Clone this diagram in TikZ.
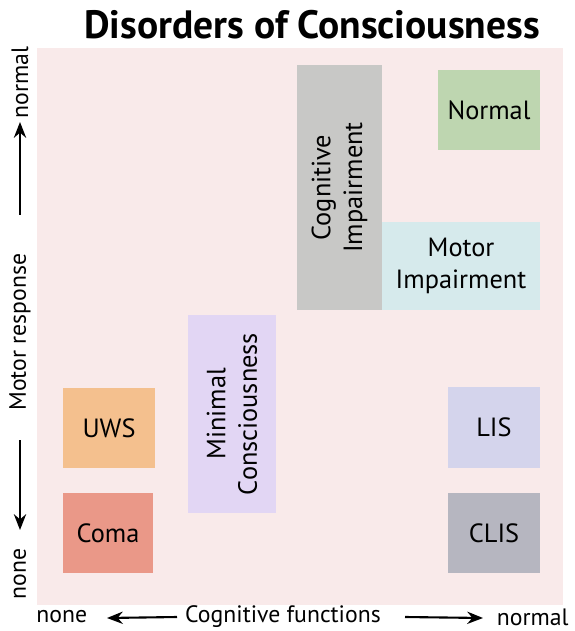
\documentclass[tikz,border=0pt]{standalone}
\usepackage{fontspec}
\setmainfont{PT Sans}
\usetikzlibrary{arrows.meta}

\definecolor{bgpink}{RGB}{249,234,234}
\definecolor{cogray}{RGB}{200,200,198}
\definecolor{normgreen}{RGB}{190,214,176}
\definecolor{motcyan}{RGB}{214,234,236}
\definecolor{uwsorange}{RGB}{244,192,142}
\definecolor{comasalmon}{RGB}{234,152,136}
\definecolor{minlav}{RGB}{226,214,244}
\definecolor{lisblue}{RGB}{212,212,236}
\definecolor{clisgray}{RGB}{182,182,192}

\newdimen\px
\px=0.02cm

\tikzset{
  state/.style={inner sep=0pt, align=center, font=\fontsize{15}{18}\selectfont},
  axislabel/.style={inner sep=0pt, font=\fontsize{13.5}{16}\selectfont},
  vaxislabel/.style={inner sep=0pt, rotate=90, font=\fontsize{13.5}{16}\selectfont},
  axisarrow/.style={-{Stealth[length=9pt,width=7pt]}, line width=1.2pt}
}

\begin{document}
\begin{tikzpicture}[x=0.02cm, y=-0.02cm]
      \useasboundingbox (0,0) rectangle (574,631);

      % Sfondo
      \fill[bgpink] (37,48) rectangle (563,605);

      % Titolo
      \node[font=\fontsize{22.5}{26}\selectfont\bfseries] (title) at (312,25) {Disorders of Consciousness};

      % Stati in alto
      \node[state, fill=cogray, minimum width=245\px, minimum height=85\px, rotate=90] (cogimp) at (339.5,187.5) {Cognitive\\Impairment};
      \node[state, fill=normgreen, minimum width=102\px, minimum height=80\px] (normal) at (489,110) {Normal};
      \node[state, fill=motcyan, minimum width=158\px, minimum height=88\px] (motimp) at (461,266) {Motor\\Impairment};

      % Stato intermedio
      \node[state, fill=minlav, minimum width=198\px, minimum height=88\px, rotate=90] (mincons) at (232,414) {Minimal\\Consciousness};

      % Stati in basso a sinistra
      \node[state, fill=uwsorange, minimum width=92\px, minimum height=80\px] (uws) at (109,428) {UWS};
      \node[state, fill=comasalmon, minimum width=90\px, minimum height=80\px] (coma) at (108,533) {Coma};

      % Stati in basso a destra
      \node[state, fill=lisblue, minimum width=92\px, minimum height=81\px] (lis) at (494,427.5) {LIS};
      \node[state, fill=clisgray, minimum width=92\px, minimum height=80\px] (clis) at (494,533) {CLIS};

      % Asse orizzontale: funzioni cognitive
      \node[axislabel] (cogfun) at (283,617) {Cognitive functions};
      \node[axislabel, anchor=west] (cnone) at (36,617) {none};
      \node[axislabel, anchor=east] (cnormal) at (569,617) {normal};
      \coordinate (cleft) at (107,618);
      \coordinate (cright) at (483,618);
      \draw[axisarrow] (cogfun.west -| 177,0) -- (cleft);
      \draw[axisarrow] (cogfun.east -| 405,0) -- (cright);

      % Asse verticale: risposta motoria
      \node[vaxislabel] (motresp) at (20,332) {Motor response};
      \node[vaxislabel, anchor=west] (mnone) at (20,600) {none};
      \node[vaxislabel, anchor=east] (mnormal) at (20,46) {normal};
      \coordinate (mtop) at (20,122);
      \coordinate (mbot) at (20,530);
      \draw[axisarrow] (motresp.east |- 0,215) -- (mtop);
      \draw[axisarrow] (motresp.west |- 0,440) -- (mbot);
    \end{tikzpicture}
\end{document}
